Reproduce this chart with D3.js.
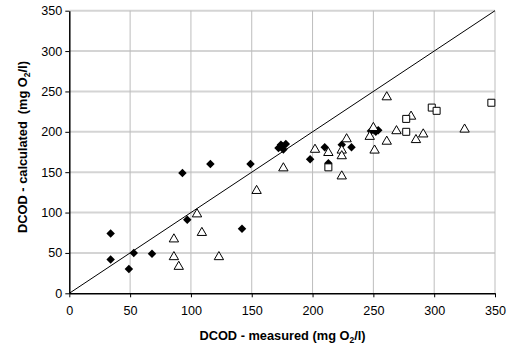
<!DOCTYPE html>
<html>
<head>
<meta charset="utf-8">
<script src="https://cdn.jsdelivr.net/npm/d3@7/dist/d3.min.js"></script>
<style>
  body { margin: 0; background: #fff; }
  text { font-family: "Liberation Sans", Arial, sans-serif; }
</style>
</head>
<body>
<div id="chart"></div>
<script>
// measured vs calculated DCOD, three groups of samples
const diamonds = [[34,74],[34,42],[49,30],[53,50],[68,49],[93,149],[97,91],[116,160],[142,80],[149,160],
  [172,180],[174,184],[176,178],[178,185],[175,182],[198,166],[210,181],[213,161],[224,184],[232,181],
  [248,201],[250,203],[252,200],[254,202]];
const triangles = [[86,67],[86,45],[90,33],[105,98],[109,75],[123,45],[154,127],[176,155],[202,178],[213,174],
  [224,177],[224,170],[224,145],[228,191],[247,194],[250,205],[251,177],[261,188],[261,243],[269,201],
  [281,219],[285,190],[291,197],[325,203]];
const squares = [[213,156],[277,216],[277,200],[298,230],[302,226],[347,236]];
const ticks = [0, 50, 100, 150, 200, 250, 300, 350];

const W = 512, H = 351;
const margin = { top: 10.7, right: 17, bottom: 57.7, left: 69.3 };
const width = W - margin.left - margin.right;
const height = H - margin.top - margin.bottom;

const svg = d3.select('#chart').append('svg')
  .attr('width', W)
  .attr('height', H);

const g = svg.append('g')
  .attr('transform', 'translate(' + margin.left + ',' + margin.top + ')');

const x = d3.scaleLinear().domain([0, 350]).range([0, width]);
const y = d3.scaleLinear().domain([0, 350]).range([height, 0]);

// grid
g.selectAll('.hgrid').data(ticks.slice(1)).enter().append('line')
  .attr('x1', 0).attr('x2', width)
  .attr('y1', d => y(d)).attr('y2', d => y(d))
  .attr('stroke', '#d4d4d4').attr('stroke-width', 2);
g.selectAll('.vgrid').data(ticks.slice(1)).enter().append('line')
  .attr('x1', d => x(d)).attr('x2', d => x(d))
  .attr('y1', 0).attr('y2', height)
  .attr('stroke', '#bdbdbd').attr('stroke-width', 1);

// axes
const xAxis = d3.axisBottom(x).tickValues(ticks).tickSize(4).tickSizeOuter(0);
const yAxis = d3.axisLeft(y).tickValues(ticks).tickSize(4).tickSizeOuter(0);

const gx = g.append('g').attr('transform', 'translate(0,' + height + ')').call(xAxis);
const gy = g.append('g').call(yAxis);
[gx, gy].forEach(a => {
  a.select('.domain').attr('stroke', '#000').attr('stroke-width', 1.5);
  a.selectAll('.tick line').attr('stroke', '#000');
  a.selectAll('.tick text').attr('font-size', 12.6).attr('fill', '#000')
    .attr('font-family', '"Liberation Sans", Arial, sans-serif');
});
gx.selectAll('.tick text').attr('dy', '1.15em');
gy.selectAll('.tick text').attr('x', -7);

// 1:1 line
g.append('line')
  .attr('x1', x(0)).attr('y1', y(0))
  .attr('x2', x(350)).attr('y2', y(350))
  .attr('stroke', '#000').attr('stroke-width', 1);

// markers
const diamondSym = d3.symbol(d3.symbolSquare, 36);
g.selectAll('.dia').data(diamonds).enter().append('path')
  .attr('d', diamondSym)
  .attr('transform', d => 'translate(' + x(d[0]) + ',' + y(d[1]) + ') rotate(45)')
  .attr('fill', '#000');

const triSym = d3.symbol(d3.symbolTriangle, 38);
g.selectAll('.tri').data(triangles).enter().append('path')
  .attr('d', triSym)
  .attr('transform', d => 'translate(' + x(d[0]) + ',' + y(d[1]) + ')')
  .attr('fill', '#fff').attr('stroke', '#000').attr('stroke-width', 1);

const sqSym = d3.symbol(d3.symbolSquare, 49);
g.selectAll('.sq').data(squares).enter().append('path')
  .attr('d', sqSym)
  .attr('transform', d => 'translate(' + x(d[0]) + ',' + y(d[1]) + ')')
  .attr('fill', '#fff').attr('stroke', '#000').attr('stroke-width', 1);

// axis titles
const xt = svg.append('text')
  .attr('x', 282.5).attr('y', 340)
  .attr('text-anchor', 'middle')
  .attr('font-size', 12.8).attr('font-weight', 'bold');
xt.append('tspan').text('DCOD - measured (mg O');
xt.append('tspan').attr('font-size', 8.5).attr('dy', 3).text('2');
xt.append('tspan').attr('dy', -3).text('/l)');

const yt = svg.append('text')
  .attr('transform', 'translate(27,147) rotate(-90)')
  .attr('text-anchor', 'middle')
  .style('white-space', 'pre')
  .attr('font-size', 12.8).attr('font-weight', 'bold');
yt.append('tspan').text('DCOD - calculated  (mg O');
yt.append('tspan').attr('font-size', 8.5).attr('dy', 3).text('2');
yt.append('tspan').attr('dy', -3).text('/l)');
</script>
</body>
</html>
